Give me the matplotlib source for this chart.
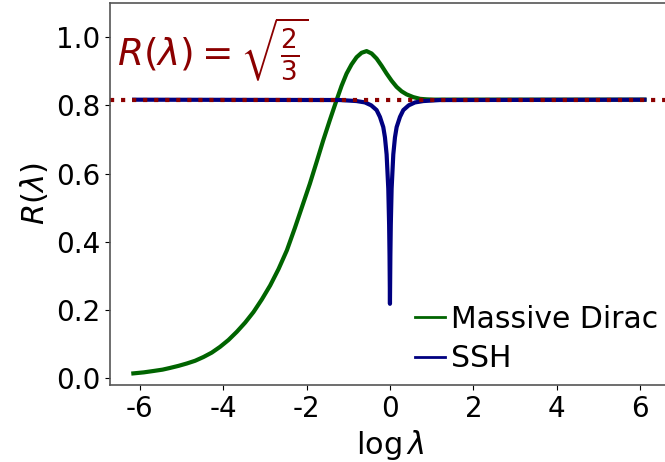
import numpy as np
import matplotlib
matplotlib.use("Agg")
import matplotlib.pyplot as plt

plt.rcParams['axes.unicode_minus'] = False

# Massive Dirac curve
dirac_x = [-6.15, -5.9, -5.67, -5.45, -5.27, -5.07, -4.87, -4.67, -4.47, -4.27,
           -4.07, -3.87, -3.67, -3.47, -3.27, -3.07, -2.87, -2.67, -2.47, -2.28,
           -2.1, -1.92, -1.76, -1.6, -1.44, -1.28, -1.16, -1.04, -0.92, -0.8,
           -0.68, -0.56, -0.44, -0.32, -0.2, -0.08, 0.04, 0.16, 0.28, 0.4,
           0.56, 0.72, 0.88, 1.04, 6.1]
dirac_y = [0.014, 0.017, 0.021, 0.025, 0.030, 0.036, 0.043, 0.051, 0.062, 0.075,
           0.092, 0.112, 0.136, 0.163, 0.194, 0.231, 0.272, 0.320, 0.375, 0.440,
           0.505, 0.570, 0.633, 0.697, 0.757, 0.815, 0.857, 0.893, 0.920, 0.941,
           0.954, 0.959, 0.952, 0.937, 0.916, 0.893, 0.872, 0.854, 0.841, 0.832,
           0.824, 0.819, 0.8175, 0.8167, 0.8165]

# SSH curve
ssh_x = [-6.13, -1.2, -0.8, -0.6, -0.45, -0.32, -0.24, -0.16, -0.12, -0.08, -0.04, -0.02, -0.01, 0.0,
         0.01, 0.02, 0.04, 0.08, 0.12, 0.16, 0.24, 0.32, 0.45, 0.6, 0.8, 1.2, 6.1]
ssh_y = [0.8165, 0.8155, 0.8125, 0.8085, 0.800, 0.786, 0.766, 0.736, 0.706, 0.656, 0.556, 0.45, 0.36, 0.218,
         0.36, 0.45, 0.556, 0.656, 0.706, 0.736, 0.766, 0.786, 0.800, 0.8085, 0.8125, 0.8155, 0.8165]

r_limit = np.sqrt(2 / 3)

fig = plt.figure(figsize=(6.65, 4.62), dpi=100)
ax = fig.add_axes([0.1654, 0.1667, 0.842, 0.8268])

ax.plot(dirac_x, dirac_y, color='darkgreen', lw=3, label='Massive Dirac')
ax.plot(ssh_x, ssh_y, color='navy', lw=3, label='SSH')
ax.axhline(r_limit, color='darkred', ls=':', lw=3)

ax.text(-6.55, 0.965, r'$R(\lambda)=\sqrt{\frac{2}{3}}$', color='darkred',
        fontsize=27, va='center', ha='left')

ax.set_xlim(-6.71, 6.71)
ax.set_ylim(-0.02, 1.1)
ax.set_xticks([-6, -4, -2, 0, 2, 4, 6])
ax.set_yticks([0.0, 0.2, 0.4, 0.6, 0.8, 1.0])
ax.tick_params(labelsize=20)
for s in ax.spines.values():
    s.set_color('#555555')
    s.set_linewidth(1.2)
ax.set_xlabel(r'$\log\lambda$', fontsize=22)
ax.set_ylabel(r'$R(\lambda)$', fontsize=22)

leg = ax.legend(loc='lower right', frameon=False, fontsize=21.5, handlelength=1.0,
                handletextpad=0.2, borderaxespad=0.0, labelspacing=0.35)
for h in leg.get_lines():
    h.set_linewidth(2)

fig.savefig('out.png', dpi=100)
